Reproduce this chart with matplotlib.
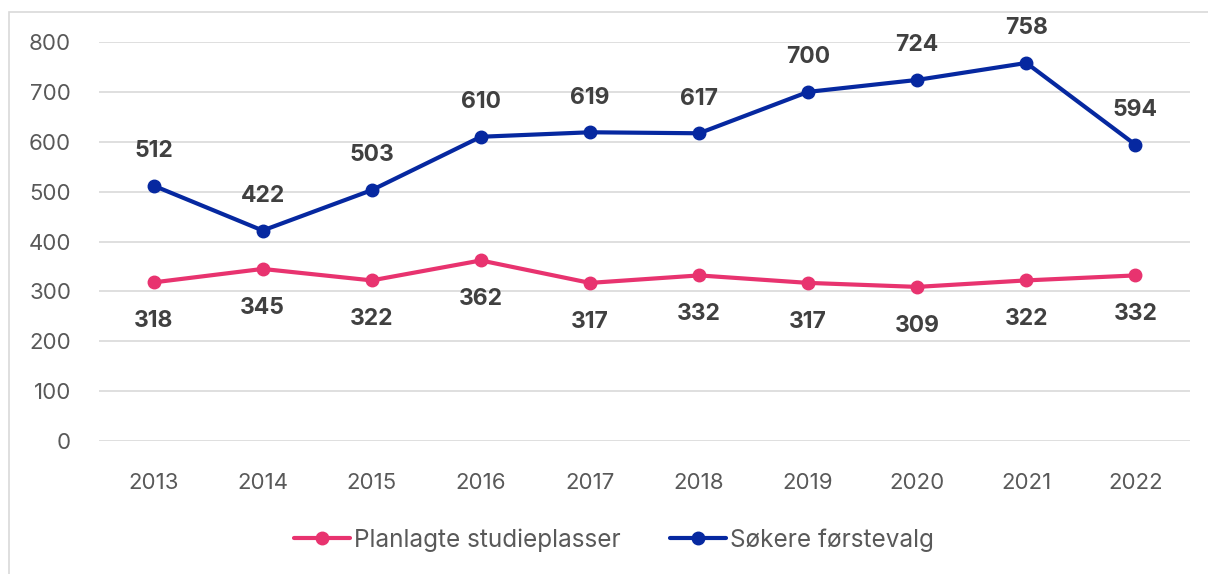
import matplotlib.pyplot as plt
from matplotlib.patches import Rectangle

years = ['2013', '2014', '2015', '2016', '2017', '2018', '2019', '2020', '2021', '2022']
planlagte = [318, 345, 322, 362, 317, 332, 317, 309, 322, 332]
sokere = [512, 422, 503, 610, 619, 617, 700, 724, 758, 594]

pink = '#E8336F'
blue = '#0628A0'
label_color = '#404040'
tick_color = '#595959'

plt.rcParams['font.family'] = ['Inter', 'DejaVu Sans']

fig = plt.figure(figsize=(12.08, 5.74), dpi=100)
# light frame, cut off on the right and bottom like the source
fig.patches.append(Rectangle((9 / 1208, -0.1), 1.2, 1 - 12 / 574 + 0.1,
                             transform=fig.transFigure, fill=False,
                             edgecolor='#D9D9D9', linewidth=1.2))

ax = fig.add_axes([99 / 1208, 1 - 441 / 574, 1091 / 1208, 399 / 574])
x = list(range(len(years)))

ax.plot(x, planlagte, color=pink, linewidth=3, marker='o', markersize=9,
        label='Planlagte studieplasser', solid_capstyle='round')
ax.plot(x, sokere, color=blue, linewidth=3, marker='o', markersize=9,
        label='Søkere førstevalg', solid_capstyle='round')

for xi, v in zip(x, planlagte):
    ax.annotate(str(v), (xi, v), xytext=(0, -28), textcoords='offset points',
                ha='center', va='center', fontsize=16.5, fontweight='bold',
                color=label_color)
for xi, v in zip(x, sokere):
    ax.annotate(str(v), (xi, v), xytext=(0, 25), textcoords='offset points',
                ha='center', va='center', fontsize=16.5, fontweight='bold',
                color=label_color)

ax.set_xlim(-0.5, len(years) - 0.5)
ax.set_ylim(0, 800)
ax.set_yticks(range(0, 801, 100))
ax.set_xticks(x)
ax.set_xticklabels(years)
ax.tick_params(axis='both', length=0, labelsize=16, colors=tick_color)
ax.tick_params(axis='y', pad=20)
ax.tick_params(axis='x', pad=23)
ax.grid(axis='y', color='#D9D9D9', linewidth=1.2)
ax.set_axisbelow(True)
for s in ax.spines.values():
    s.set_visible(False)

leg = fig.legend(loc='center', bbox_to_anchor=(614 / 1208, 1 - 540 / 574), ncol=2,
                 frameon=False, fontsize=17.5, handlelength=2.3, handletextpad=0.2,
                 columnspacing=2.0)
for t in leg.get_texts():
    t.set_color(tick_color)

fig.savefig('out.png', dpi=100)
